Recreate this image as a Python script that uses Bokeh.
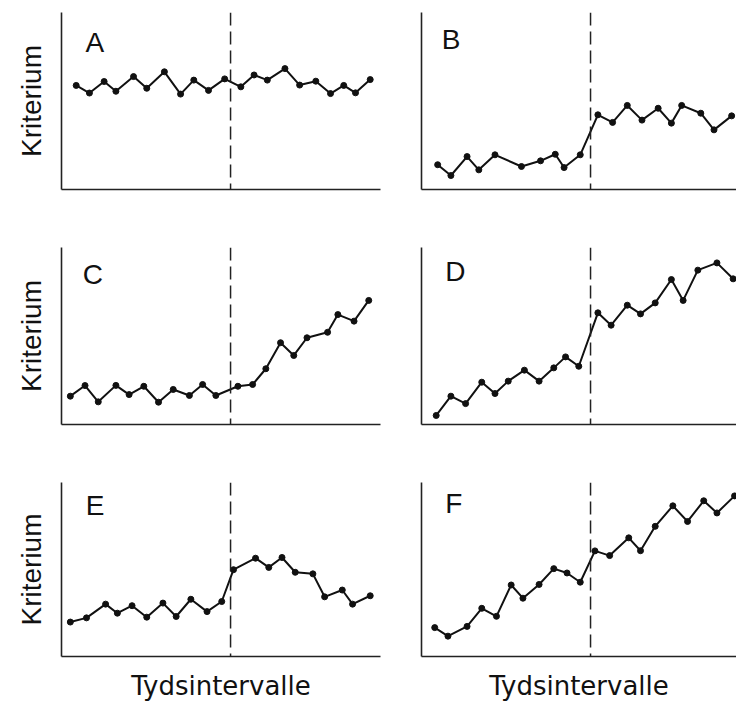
from bokeh.plotting import figure
from bokeh.layouts import column, row
from bokeh.models import Span, Label, Range1d, FixedTicker
from bokeh.embed import file_html
from bokeh.resources import INLINE

# ---- data (time interval index, criterion value 0-100) ----
letters = ["A", "B", "C", "D", "E", "F"]
phase_change = 11.5
y_label = "Kriterium"
x_label = "Tydsintervalle"

A_x = [1.0, 1.9, 2.9, 3.7, 4.9, 5.8, 7.0, 8.1, 9.0, 10.0, 11.1, 12.2, 13.1, 14.0, 15.2, 16.2, 17.3, 18.3, 19.2, 20.0, 21.0]
A_y = [58.8, 54.5, 61.0, 55.5, 63.8, 57.2, 66.5, 53.9, 61.8, 56.0, 62.5, 58.0, 64.7, 61.8, 68.3, 59.0, 61.2, 54.2, 58.8, 54.6, 62.1]

B_x = [1.1, 2.0, 3.1, 3.9, 5.0, 6.8, 8.1, 9.1, 9.7, 10.8, 12.0, 13.0, 14.0, 15.0, 16.1, 17.0, 17.7, 19.0, 19.9, 21.1]
B_y = [14.0, 7.9, 18.6, 11.1, 19.6, 13.0, 16.2, 19.9, 12.4, 19.6, 42.2, 37.9, 47.5, 39.2, 45.9, 37.5, 47.5, 43.1, 33.7, 41.6]

C_x = [0.6, 1.6, 2.5, 3.7, 4.6, 5.6, 6.6, 7.6, 8.7, 9.6, 10.5, 12.0, 13.0, 13.9, 14.9, 15.8, 16.7, 18.1, 18.8, 19.9, 20.9]
C_y = [16.0, 22.0, 12.8, 22.1, 16.9, 21.6, 12.6, 19.8, 16.4, 22.6, 16.4, 21.6, 22.6, 31.5, 46.2, 39.0, 49.0, 52.1, 62.1, 58.4, 70.1]

D_x = [1.0, 2.0, 3.0, 4.1, 5.0, 5.9, 7.0, 8.0, 9.0, 9.8, 10.7, 12.0, 12.9, 14.0, 14.9, 15.9, 17.0, 17.8, 18.8, 20.1, 21.2]
D_y = [5.1, 16.0, 11.8, 23.9, 17.5, 24.5, 30.7, 24.5, 32.0, 38.2, 32.9, 63.1, 56.1, 67.4, 62.5, 68.7, 81.9, 70.1, 87.2, 91.3, 82.3]

E_x = [0.6, 1.7, 3.0, 3.8, 4.8, 5.8, 6.9, 7.8, 8.8, 9.9, 10.9, 11.7, 13.2, 14.1, 15.0, 15.9, 17.1, 17.9, 19.1, 19.8, 21.0]
E_y = [19.8, 22.2, 30.1, 24.9, 29.2, 22.6, 30.7, 23.0, 32.9, 25.8, 31.6, 49.9, 56.5, 51.2, 56.9, 48.4, 47.5, 34.3, 38.2, 30.1, 34.9]

F_x = [0.9, 1.8, 3.1, 4.1, 5.1, 6.1, 6.9, 8.0, 9.0, 9.9, 10.8, 11.8, 12.8, 14.1, 14.9, 15.9, 17.1, 18.1, 19.2, 20.1, 21.3]
F_y = [16.6, 11.7, 17.3, 27.7, 23.1, 41.1, 33.5, 41.4, 50.5, 48.0, 42.7, 60.7, 58.0, 68.2, 60.8, 74.8, 86.6, 77.6, 89.5, 82.5, 92.3]

series = {"A": (A_x, A_y), "B": (B_x, B_y), "C": (C_x, C_y),
          "D": (D_x, D_y), "E": (E_x, E_y), "F": (F_x, F_y)}

# ---- layout / style ----
INK = "#111111"
col_spec = [  # (width, border_left, border_right, x_max)
    (400, 61, 20, 21.7),
    (336, 21, 0, 21.43),
]
row_spec = [  # (height, border_top, border_bottom)
    (218, 12, 29),
    (235, 29, 29),
    (250, 29, 44),
]
letter_pos = {"A": (1.63, 83.0), "B": (1.38, 84.5), "C": (1.45, 84.8),
              "D": (1.61, 86.5), "E": (1.65, 86.5), "F": (1.61, 88.0)}


def make_panel(letter, ci, ri):
    w, bl, br, xmax = col_spec[ci]
    h, bt, bb = row_spec[ri]
    p = figure(width=w, height=h, x_range=Range1d(0, xmax), y_range=Range1d(0, 100),
               output_backend="svg", toolbar_location=None,
               min_border_left=bl, min_border_right=br,
               min_border_top=bt, min_border_bottom=bb)
    p.grid.visible = False
    p.outline_line_color = None
    p.background_fill_color = "white"
    p.border_fill_color = "white"
    for ax in (p.xaxis[0], p.yaxis[0]):
        ax.ticker = FixedTicker(ticks=[])
        ax.major_tick_out = 0
        ax.major_tick_in = 0
        ax.minor_tick_out = 0
        ax.minor_tick_in = 0
        ax.major_label_standoff = 0
        ax.axis_line_color = "#222222"
        ax.axis_line_width = 1.6
    if ci == 0:
        p.yaxis.axis_label = y_label
        p.yaxis.axis_label_text_font = "Liberation Sans"
        p.yaxis.axis_label_text_font_size = "28px"
        p.yaxis.axis_label_text_font_style = "normal"
        p.yaxis.axis_label_text_color = INK
        p.yaxis.axis_label_standoff = 15
    if ri == 2:
        p.xaxis.axis_label = x_label
        p.xaxis.axis_label_text_font = "DejaVu Sans"
        p.xaxis.axis_label_text_font_size = "26px"
        p.xaxis.axis_label_text_font_style = "normal"
        p.xaxis.axis_label_text_color = INK
        p.xaxis.axis_label_standoff = 14

    p.add_layout(Span(location=phase_change, dimension="height", line_color="#222222",
                      line_width=1.5, line_dash="13 6"))

    xs, ys = series[letter]
    p.line(xs, ys, line_color=INK, line_width=2)
    p.scatter(xs, ys, size=6, fill_color=INK, line_color=INK)

    lx, ly = letter_pos[letter]
    p.add_layout(Label(x=lx, y=ly, text=letter, text_font="Liberation Sans",
                       text_font_size="28px", text_color=INK,
                       text_align="left", text_baseline="alphabetic"))
    return p


rows = []
for ri in range(3):
    rows.append(row(make_panel(letters[2 * ri], 0, ri), make_panel(letters[2 * ri + 1], 1, ri)))
layout = column(*rows)

open("out.html", "w").write(file_html(layout, INLINE))
